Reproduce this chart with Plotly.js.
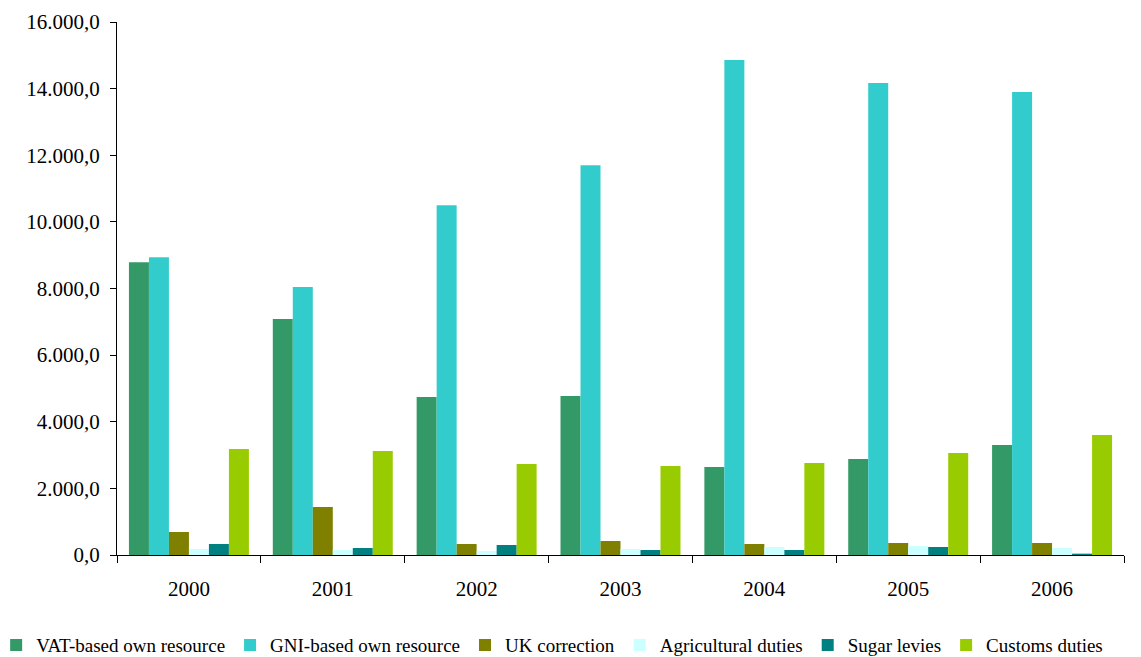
<!DOCTYPE html>
<html>
<head>
<meta charset="utf-8">
<script src="https://cdn.plot.ly/plotly-3.0.1.min.js"></script>
<style>html,body{margin:0;padding:0;background:#fff;}#chart{width:1141px;height:657px;}</style>
</head>
<body>
<div id="chart"></div>
<script>
const years = ["2000", "2001", "2002", "2003", "2004", "2005", "2006"];
const seriesNames = ["VAT-based own resource", "GNI-based own resource", "UK correction", "Agricultural duties", "Sugar levies", "Customs duties"];
const vat = [8790, 7085, 4740, 4770, 2640, 2880, 3300];
const gni = [8940, 8045, 10500, 11700, 14860, 14170, 13900];
const ukCorrection = [690, 1440, 330, 420, 330, 360, 360];
const agricultural = [180, 150, 120, 180, 240, 270, 210];
const sugar = [330, 210, 300, 150, 150, 240, 40];
const customs = [3180, 3120, 2730, 2670, 2760, 3060, 3600];
const colors = ["#339966", "#33CCCC", "#808000", "#CCFFFF", "#008080", "#99CC00"];

const allValues = [vat, gni, ukCorrection, agricultural, sugar, customs];
const traces = allValues.map((vals, i) => ({
  type: "bar",
  name: seriesNames[i],
  x: years,
  y: vals,
  marker: {color: colors[i], line: {width: 0}},
  hoverinfo: "x+y+name"
}));

const fam = "Liberation Serif";
const axisFont = {family: fam, size: 21, color: "#000"};
const layout = {
  width: 1141,
  height: 657,
  margin: {l: 117, r: 17, t: 22, b: 102, autoexpand: false},
  paper_bgcolor: "#fff",
  plot_bgcolor: "#fff",
  font: {family: fam, size: 20, color: "#000"},
  separators: ",.",
  barmode: "group",
  bargap: 0.166,
  bargroupgap: 0,
  showlegend: true,
  legend: {
    orientation: "h",
    xref: "paper",
    yref: "paper",
    x: -0.12,
    xanchor: "left",
    y: -0.169,
    yanchor: "middle",
    font: {family: fam, size: 19, color: "#000"},
    itemwidth: 30,
    tracegroupgap: 0,
    traceorder: "normal",
    bgcolor: "rgba(0,0,0,0)"
  },
  xaxis: {
    type: "category",
    showline: true,
    linecolor: "#000",
    linewidth: 1,
    ticks: "outside",
    tickson: "boundaries",
    ticklen: 7,
    tickcolor: "#000",
    showgrid: false,
    zeroline: false,
    tickfont: axisFont,
    ticklabelstandoff: 15,
    fixedrange: true
  },
  yaxis: {
    range: [0, 16000],
    dtick: 2000,
    tick0: 0,
    tickformat: ",.1f",
    showline: true,
    linecolor: "#000",
    linewidth: 1,
    ticks: "outside",
    ticklen: 6,
    tickcolor: "#000",
    showgrid: false,
    zeroline: false,
    tickfont: axisFont,
    ticklabelstandoff: 6,
    fixedrange: true
  }
};

Plotly.newPlot("chart", traces, layout, {displayModeBar: false, staticPlot: true});
</script>
</body>
</html>
